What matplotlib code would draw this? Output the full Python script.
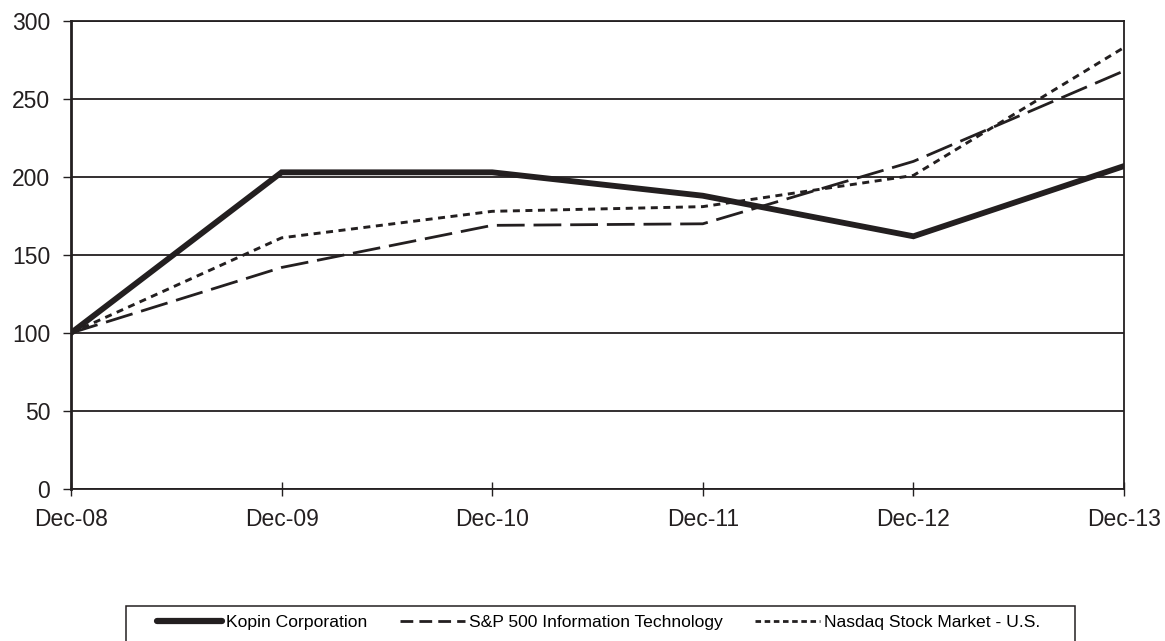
import matplotlib
matplotlib.use("Agg")
import matplotlib.pyplot as plt
from matplotlib.lines import Line2D
from matplotlib.patches import Rectangle

plt.rcParams['font.family'] = ['Liberation Sans', 'DejaVu Sans']

years = ['Dec-08', 'Dec-09', 'Dec-10', 'Dec-11', 'Dec-12', 'Dec-13']
kopin = [100, 203, 203, 188, 162, 207]
sp_it = [100, 142, 169, 170, 210, 268]
nasdaq = [100, 161, 178, 181, 201, 283]
names = ['Kopin Corporation', 'S&P 500 Information Technology', 'Nasdaq Stock Market - U.S.']

ink = '#231f20'
W, H = 1165, 641
fig = plt.figure(figsize=(W / 100, H / 100), dpi=100)
ax = fig.add_axes([71 / W, 1 - 489 / H, (1124 - 71) / W, (489 - 21) / H])

x = range(len(years))
ax.plot(x, kopin, color=ink, lw=4.2, solid_joinstyle='miter')
ax.plot(x, sp_it, color=ink, lw=2.0, dashes=(10, 3.2))
ax.plot(x, nasdaq, color=ink, lw=2.1, dashes=(2.4, 1.9))

ax.set_xlim(0, len(years) - 1)
ax.set_ylim(0, 300)
ax.set_yticks(range(0, 301, 50))
ax.set_xticks(list(x))
ax.set_xticklabels(years)
ax.yaxis.grid(True, color=ink, lw=1.3)
ax.set_axisbelow(True)
ax.tick_params(axis='both', labelsize=16.5, color=ink, width=1, labelcolor=ink)
ax.tick_params(axis='x', direction='inout', length=10, pad=9)
ax.tick_params(axis='y', direction='out', length=6, pad=9)
ax.spines['left'].set_linewidth(2.0)
for s in ['bottom', 'top', 'right']:
    ax.spines[s].set_linewidth(1.3)
for s in ax.spines.values():
    s.set_color(ink)

# legend proxies (legend dash pattern is tighter than the plot's)
handles = [
    Line2D([], [], color=ink, lw=4.5, solid_capstyle='round'),
    Line2D([], [], color=ink, lw=2.0, dashes=(4.6, 2.2)),
    Line2D([], [], color=ink, lw=2.0, dashes=(2.0, 1.3)),
]
fig.legend(handles=handles, labels=names, loc='center left',
           bbox_to_anchor=(157 / W, 1 - 622 / H), ncol=3, fontsize=12.6,
           frameon=False, handlelength=3.7, handletextpad=0.25,
           columnspacing=1.85, borderpad=0, borderaxespad=0)
fig.patches.append(Rectangle((126 / W, -0.02), (1075 - 126) / W, 0.02 + 1 - 606 / H,
                             transform=fig.transFigure, fill=False,
                             edgecolor=ink, lw=1.1))

fig.savefig('out.png', dpi=100)
